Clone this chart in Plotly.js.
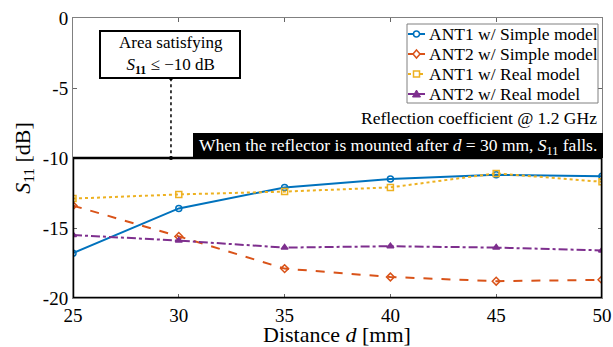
<!DOCTYPE html>
<html><head><meta charset="utf-8">
<script src="https://cdn.plot.ly/plotly-3.0.1.min.js"></script>
<style>html,body{margin:0;padding:0;background:#fff}#chart{width:613px;height:347px}</style>
</head><body><div id="chart"></div>
<script>
const distance = [25, 30, 35, 40, 45, 50];
const ant1Simple = [-16.8, -13.6, -12.1, -11.5, -11.2, -11.3];
const ant2Simple = [-13.4, -15.6, -17.9, -18.5, -18.8, -18.7];
const ant1Real = [-12.9, -12.6, -12.4, -12.1, -11.1, -11.7];
const ant2Real = [-15.5, -15.9, -16.4, -16.3, -16.4, -16.6];
const seriesNames = ['ANT1 w/ Simple model', 'ANT2 w/ Simple model', 'ANT1 w/ Real model', 'ANT2 w/ Real model'];
const seriesColors = ['#0072BD', '#D95319', '#EDB120', '#7E2F8E'];
const seriesDash = ['solid', 'dash', 'dot', 'dashdot'];
const seriesSymbols = ['circle-open', 'diamond-open', 'square-open', 'triangle-up'];
const yTicks = [0, -5, -10, -15, -20];
const yTickLabels = ['0', '-5', '-10', '-15', '-20'];
const xTicks = [25, 30, 35, 40, 45, 50];

const W = 613, H = 347, L = 73, R = 11, T = 18, B = 49;
const PW = W - L - R, PH = H - T - B;
const px = v => (v - L) / PW;
const py = v => 1 - (v - T) / PH;

const font = "'Liberation Serif'";
const allSeries = [ant1Simple, ant2Simple, ant1Real, ant2Real];
const traces = allSeries.map((y, i) => ({
  x: distance, y: y, name: seriesNames[i], type: 'scatter', mode: 'lines+markers', showlegend: false,
  line: {color: seriesColors[i], width: 2, dash: seriesDash[i]},
  marker: {symbol: seriesSymbols[i], size: 6, color: seriesColors[i], line: {color: seriesColors[i], width: 1.5}}
}));
traces.push({x: [29.63, 29.63], y: [-4.3, -10], type: 'scatter', mode: 'markers', showlegend: false,
  marker: {color: '#000', size: 4}, hoverinfo: 'skip'});

const shapes = [
  {type: 'rect', xref: 'x', yref: 'y', x0: 25, x1: 50, y0: -20, y1: -10, line: {color: '#000', width: 2.5}},
  {type: 'line', xref: 'x', yref: 'y', x0: 29.63, x1: 29.63, y0: -4.3, y1: -10, line: {color: '#000', width: 1.5, dash: 'dot'}},
  {type: 'rect', xref: 'paper', yref: 'paper', x0: px(100), x1: px(240), y0: py(78), y1: py(31),
   fillcolor: '#fff', line: {color: '#000', width: 2}},
  {type: 'rect', xref: 'paper', yref: 'paper', x0: px(193), x1: px(603), y0: py(158), y1: py(133),
   fillcolor: '#000', line: {width: 0}},
  {type: 'rect', xref: 'paper', yref: 'paper', x0: px(407), x1: px(598), y0: py(103), y1: py(24),
   fillcolor: '#fff', line: {color: '#808080', width: 1}}
];
const annotations = [
  {xref: 'paper', yref: 'paper', x: px(171), y: py(55), xanchor: 'center', yanchor: 'middle',
   text: 'Area satisfying<br><i>S</i><sub><b>11</b></sub> ≤ −10 dB', showarrow: false, align: 'center',
   font: {family: font, size: 17, color: '#000'}},
  {xref: 'paper', yref: 'paper', x: px(599), y: py(118), xanchor: 'right', yanchor: 'middle',
   text: 'Reflection coefficient @ 1.2 GHz', showarrow: false, font: {family: font, size: 17.5, color: '#000'}},
  {xref: 'paper', yref: 'paper', x: px(398), y: py(146), xanchor: 'center', yanchor: 'middle',
   text: 'When the reflector is mounted after <i>d</i> = 30 mm, <i>S</i><sub>11</sub> falls.', showarrow: false,
   font: {family: font, size: 17.5, color: '#fff'}},
  {xref: 'paper', yref: 'paper', x: px(337), y: py(334), xanchor: 'center', yanchor: 'middle',
   text: 'Distance <i>d</i> [mm]', showarrow: false, font: {family: font, size: 22, color: '#000'}}
];
// manual legend
const rowY = [34, 54, 74, 94];
const markerPaths = [null, 'M0,4 L3.5,0 L0,-4 L-3.5,0 Z', null, 'M-4,-3 L4,-3 L0,4 Z'];
seriesNames.forEach((name, i) => {
  const yy = py(rowY[i]);
  shapes.push({type: 'line', xref: 'paper', yref: 'paper', x0: px(408), x1: px(425), y0: yy, y1: yy,
    line: {color: seriesColors[i], width: 2, dash: seriesDash[i] === 'dot' ? 'dot' : 'solid'}});
  const base = {xref: 'paper', yref: 'paper', xsizemode: 'pixel', ysizemode: 'pixel', xanchor: px(416.5), yanchor: yy};
  if (i === 0) shapes.push(Object.assign({type: 'circle', x0: -3, x1: 3, y0: -3, y1: 3, fillcolor: '#fff',
    line: {color: seriesColors[i], width: 1.5}}, base));
  if (i === 2) shapes.push(Object.assign({type: 'rect', x0: -3, x1: 3, y0: -3, y1: 3, fillcolor: '#fff',
    line: {color: seriesColors[i], width: 1.5}}, base));
  if (i === 1) shapes.push(Object.assign({type: 'path', path: markerPaths[i], fillcolor: '#fff',
    line: {color: seriesColors[i], width: 1.5}}, base));
  if (i === 3) shapes.push(Object.assign({type: 'path', path: markerPaths[i], fillcolor: seriesColors[i],
    line: {color: seriesColors[i], width: 1}}, base));
  annotations.push({xref: 'paper', yref: 'paper', x: px(427), y: yy, xanchor: 'left', yanchor: 'middle',
    text: name, showarrow: false, font: {family: font, size: 17.5, color: '#000'}});
});

const layout = {
  width: W, height: H,
  margin: {l: L, r: R, t: T, b: B},
  paper_bgcolor: '#fff', plot_bgcolor: '#fff',
  font: {family: font, color: '#000', size: 17},
  showlegend: false,
  xaxis: {range: [25, 50], tickvals: xTicks, ticks: 'inside', ticklen: 4, tickcolor: '#666',
    showline: true, linecolor: '#808080', mirror: 'ticks', showgrid: false, zeroline: false,
    tickfont: {family: font, size: 19}},
  yaxis: {range: [-20, 0], tickvals: yTicks, ticktext: yTickLabels, ticks: 'inside', ticklen: 4, tickcolor: '#666',
    showline: true, linecolor: '#808080', mirror: 'ticks', showgrid: false, zeroline: false,
    tickfont: {family: font, size: 19}, title: {text: '<i>S</i><sub>11</sub> [dB]', font: {family: font, size: 22}, standoff: 6}},
  shapes: shapes,
  annotations: annotations
};
Plotly.newPlot('chart', traces, layout, {displayModeBar: false, staticPlot: true});
</script></body></html>
